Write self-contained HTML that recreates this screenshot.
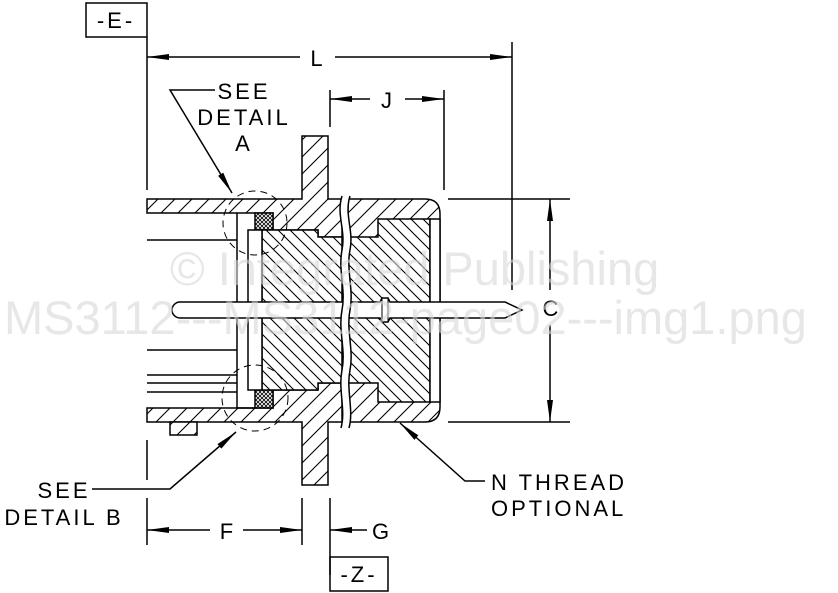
<!DOCTYPE html>
<html><head><style>
html,body{margin:0;padding:0;background:#fff;}
svg{display:block;}
text{font-family:"Liberation Sans Narrow","Liberation Sans",sans-serif;fill:#000;}
.t{font-size:22px;letter-spacing:3px;}
</style></head><body>
<svg width="838" height="593" viewBox="0 0 838 593" xmlns="http://www.w3.org/2000/svg">
<defs>
<pattern id="hf" patternUnits="userSpaceOnUse" width="17" height="17">
<rect width="17" height="17" fill="#fff"/>
<path d="M-1,18L18,-1M-1,1L1,-1M16,18L18,16" stroke="#000" stroke-width="1.1"/></pattern>
<pattern id="hb" patternUnits="userSpaceOnUse" width="12" height="12">
<rect width="12" height="12" fill="#fff"/>
<path d="M-1,-1L13,13M-1,11L1,13M11,-1L13,1" stroke="#000" stroke-width="1.1"/></pattern>
<pattern id="hx" patternUnits="userSpaceOnUse" width="4" height="4">
<rect width="4" height="4" fill="#fff"/>
<path d="M0,0L4,4M4,0L0,4" stroke="#000" stroke-width="0.8"/></pattern>
<marker id="ar" markerWidth="22" markerHeight="8" refX="22" refY="4" orient="auto" markerUnits="userSpaceOnUse">
<path d="M0,1L22,4L0,7Z" fill="#000"/></marker>
</defs>
<g stroke="#000" stroke-width="1.5" fill="none">
<rect x="86" y="3" width="61" height="34" fill="#fff"/>
<rect x="330" y="557" width="58" height="34"/>
<line x1="147" y1="37" x2="147" y2="190"/>
<line x1="147" y1="440" x2="147" y2="480"/>
<line x1="147" y1="498" x2="147" y2="545"/>
<line x1="512" y1="42" x2="512" y2="290"/>
<line x1="330" y1="90" x2="330" y2="127"/>
<line x1="444" y1="90" x2="444" y2="190"/>
<line x1="302" y1="498" x2="302" y2="545"/>
<line x1="330" y1="498" x2="330" y2="575"/>
<line x1="448" y1="199" x2="570" y2="199"/>
<line x1="448" y1="422" x2="570" y2="422"/>
<line x1="300" y1="57" x2="147" y2="57" marker-end="url(#ar)"/>
<line x1="335" y1="57" x2="512" y2="57" marker-end="url(#ar)"/>
<line x1="370" y1="99" x2="330" y2="99" marker-end="url(#ar)"/>
<line x1="405" y1="99" x2="444" y2="99" marker-end="url(#ar)"/>
<line x1="550" y1="290" x2="550" y2="199" marker-end="url(#ar)"/>
<line x1="550" y1="325" x2="550" y2="422" marker-end="url(#ar)"/>
<line x1="210" y1="530" x2="147" y2="530" marker-end="url(#ar)"/>
<line x1="243" y1="530" x2="302" y2="530" marker-end="url(#ar)"/>
<line x1="367" y1="530" x2="330" y2="530" marker-end="url(#ar)"/>
<polyline points="215,90 170,90 232,193" marker-end="url(#ar)"/>
<polyline points="92,489 170,489 236,432" marker-end="url(#ar)"/>
<polyline points="485,481 465,481 400,423" marker-end="url(#ar)"/>
</g>
<g stroke="#000" stroke-width="1.5">
<polygon points="147,199 302,199 302,136 328,136 328,199 342,199 342,237 318,237 318,230 273,230 273,213 147,213" fill="url(#hf)"/>
<polygon points="147,422 302,422 302,485 328,485 328,422 342,422 342,383 318,383 318,390 273,390 273,408 147,408" fill="url(#hf)"/>
<rect x="170" y="422" width="27" height="13" fill="url(#hf)"/>
<rect x="255" y="213" width="18" height="17" fill="url(#hx)"/>
<rect x="255" y="390" width="18" height="18" fill="url(#hx)"/>
<polygon points="262,230 318,230 318,237 342,237 342,383 318,383 318,390 262,390" fill="url(#hb)"/>
<rect x="248" y="230" width="14" height="160" fill="#fff"/>
<polyline points="237,213 237,408 255,408" fill="none"/>
<line x1="147" y1="240" x2="237" y2="240"/>
<line x1="147" y1="350" x2="237" y2="350"/>
<line x1="147" y1="375" x2="237" y2="375"/>
<line x1="147" y1="383" x2="237" y2="383"/>
<line x1="147" y1="392" x2="237" y2="392"/>
<path d="M348,199 L425,199 Q440,199 440,214 L440,407 Q440,422 425,422 L348,422 Z" fill="url(#hf)"/>
<polygon points="378,219 430,219 430,402 378,402 378,383 348,383 348,237 378,237" fill="url(#hb)"/>
<rect x="430" y="219" width="10" height="183" fill="#fff"/>
<path d="M180,302 L380,302 L382,298 L388,298 L390,302 L505,302 L522,310 L505,318 L390,318 L388,322 L382,322 L380,318 L180,318 A8,8 0 0 1 180,302 Z" fill="#fff"/>
<line x1="382" y1="298" x2="382" y2="322" stroke-width="1"/>
<line x1="388" y1="298" x2="388" y2="322" stroke-width="1"/>
<path d="M342,196 C336,215 346,230 342,250 C338,270 346,290 342,310 C338,330 346,350 342,370 C338,390 346,410 341,428 L349,428 C354,410 346,390 350,370 C354,350 346,330 350,310 C354,290 346,270 350,250 C354,230 344,215 350,196 Z" fill="#fff" stroke="none"/>
<path d="M342,196 C336,215 346,230 342,250 C338,270 346,290 342,310 C338,330 346,350 342,370 C338,390 346,410 341,428" fill="none"/>
<path d="M350,196 C344,215 354,230 350,250 C346,270 354,290 350,310 C346,330 354,350 350,370 C346,390 354,410 349,428" fill="none"/>
</g>
<g stroke="#000" stroke-width="1" fill="none" stroke-dasharray="7,5">
<circle cx="255" cy="223" r="32"/>
<circle cx="255" cy="398" r="33"/>
</g>
<text class="t" x="116" y="28" text-anchor="middle">-E-</text>
<text class="t" x="359" y="582" text-anchor="middle">-Z-</text>
<text class="t" x="318" y="66" text-anchor="middle">L</text>
<text class="t" x="388" y="108" text-anchor="middle">J</text>
<text class="t" x="552" y="316" text-anchor="middle">C</text>
<text class="t" x="228" y="539" text-anchor="middle">F</text>
<text class="t" x="382" y="539" text-anchor="middle">G</text>
<text class="t" x="244" y="99" text-anchor="middle">SEE</text>
<text class="t" x="244" y="125" text-anchor="middle">DETAIL</text>
<text class="t" x="244" y="151" text-anchor="middle">A</text>
<text class="t" x="64" y="498" text-anchor="middle">SEE</text>
<text class="t" x="64" y="525" text-anchor="middle">DETAIL B</text>
<text class="t" x="491" y="490">N THREAD</text>
<text class="t" x="491" y="516">OPTIONAL</text>
<text x="170" y="285" style="font-family:'Liberation Sans',sans-serif;font-size:47px;fill:#d8d8d8;opacity:0.6;">© Integrated Publishing</text>
<text x="4" y="334" style="font-family:'Liberation Sans',sans-serif;font-size:47px;fill:#d8d8d8;opacity:0.6;">MS3112---MS3112-page02---img1.png</text>
</svg>
</body></html>
